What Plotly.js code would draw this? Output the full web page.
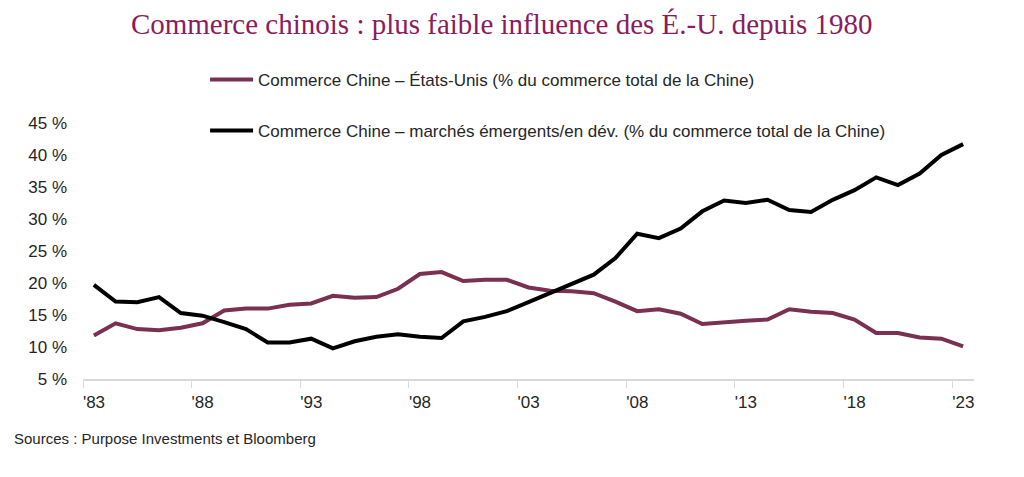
<!DOCTYPE html>
<html>
<head>
<meta charset="utf-8">
<script src="https://cdn.plot.ly/plotly-3.0.1.min.js"></script>
<style>html,body{margin:0;padding:0;background:#fff;}#chart{width:1024px;height:477px;}</style>
</head>
<body>
<div id="chart"></div>
<script>
const years = [1983,1984,1985,1986,1987,1988,1989,1990,1991,1992,1993,1994,1995,1996,1997,1998,1999,2000,2001,2002,2003,2004,2005,2006,2007,2008,2009,2010,2011,2012,2013,2014,2015,2016,2017,2018,2019,2020,2021,2022,2023];
const usShare = [11.8,13.7,12.8,12.6,13.0,13.7,15.7,16.0,16.0,16.6,16.8,18.0,17.7,17.8,19.1,21.4,21.7,20.3,20.5,20.5,19.3,18.8,18.7,18.4,17.1,15.6,15.9,15.2,13.6,13.9,14.1,14.3,15.9,15.5,15.3,14.3,12.2,12.2,11.5,11.3,10.1];
const emShare = [19.7,17.1,17.0,17.8,15.3,14.9,13.9,12.8,10.7,10.7,11.3,9.8,10.9,11.6,12.0,11.6,11.4,14.0,14.7,15.6,17.0,18.4,19.8,21.3,23.9,27.7,27.0,28.5,31.2,32.9,32.5,33.0,31.4,31.1,33.0,34.5,36.5,35.3,37.1,40.0,41.7];
const tickYears = [1983,1988,1993,1998,2003,2008,2013,2018,2023];
const tickLabels = ["'83","'88","'93","'98","'03","'08","'13","'18","'23"];
const seriesNames = ["Commerce Chine – États-Unis (% du commerce total de la Chine)","Commerce Chine – marchés émergents/en dév. (% du commerce total de la Chine)"];
const titleText = "Commerce chinois : plus faible influence des É.-U. depuis 1980";
const sourceText = "Sources : Purpose Investments et Bloomberg";

const traces = [
  {x: years, y: usShare, name: seriesNames[0], type: 'scatter', mode: 'lines',
   line: {color: '#7a3050', width: 4}, legend: 'legend'},
  {x: years, y: emShare, name: seriesNames[1], type: 'scatter', mode: 'lines',
   line: {color: '#000000', width: 4}, legend: 'legend2'}
];

const font = {family: 'Liberation Sans, Arial, sans-serif', size: 17, color: '#262626'};
const legendBase = {orientation: 'h', xanchor: 'left', yanchor: 'middle', bgcolor: 'rgba(0,0,0,0)',
  font: font, itemwidth: 43, borderwidth: 0};

const layout = {
  width: 1024, height: 477,
  margin: {l: 83, r: 50, t: 123, b: 98},
  paper_bgcolor: '#fff', plot_bgcolor: '#fff',
  font: font,
  title: {text: titleText, font: {family: 'Liberation Serif, Georgia, serif', size: 29, color: '#8c1c5c'},
    x: 0.490, xanchor: 'center', xref: 'container', y: 1 - 24/477, yanchor: 'middle', yref: 'container'},
  xaxis: {range: [1982.5, 2023.5], showgrid: false, zeroline: false,
    showline: true, linecolor: '#d9d9d9', linewidth: 2,
    ticks: 'outside', ticklen: 7, tickcolor: '#d9d9d9', tickwidth: 1,
    tickvals: tickYears.map(y => y - 0.5), ticktext: tickLabels,
    ticklabelshift: 11, tickfont: font},
  yaxis: {range: [5, 45], dtick: 5, tick0: 5, ticksuffix: ' %', showgrid: false, zeroline: false,
    showline: false, ticks: '', ticklabelstandoff: 15, tickfont: font},
  showlegend: true,
  legend: Object.assign({}, legendBase, {x: 0.137, y: (379-80)/256}),
  legend2: Object.assign({}, legendBase, {x: 0.137, y: (379-131)/256}),
  annotations: [{text: sourceText, xref: 'paper', yref: 'paper', x: (12-83)/891, y: (379-438)/256,
    xanchor: 'left', yanchor: 'middle', showarrow: false,
    font: {family: 'Liberation Sans, Arial, sans-serif', size: 15, color: '#262626'}}]
};

Plotly.newPlot('chart', traces, layout, {displayModeBar: false, staticPlot: true});
</script>
</body>
</html>
